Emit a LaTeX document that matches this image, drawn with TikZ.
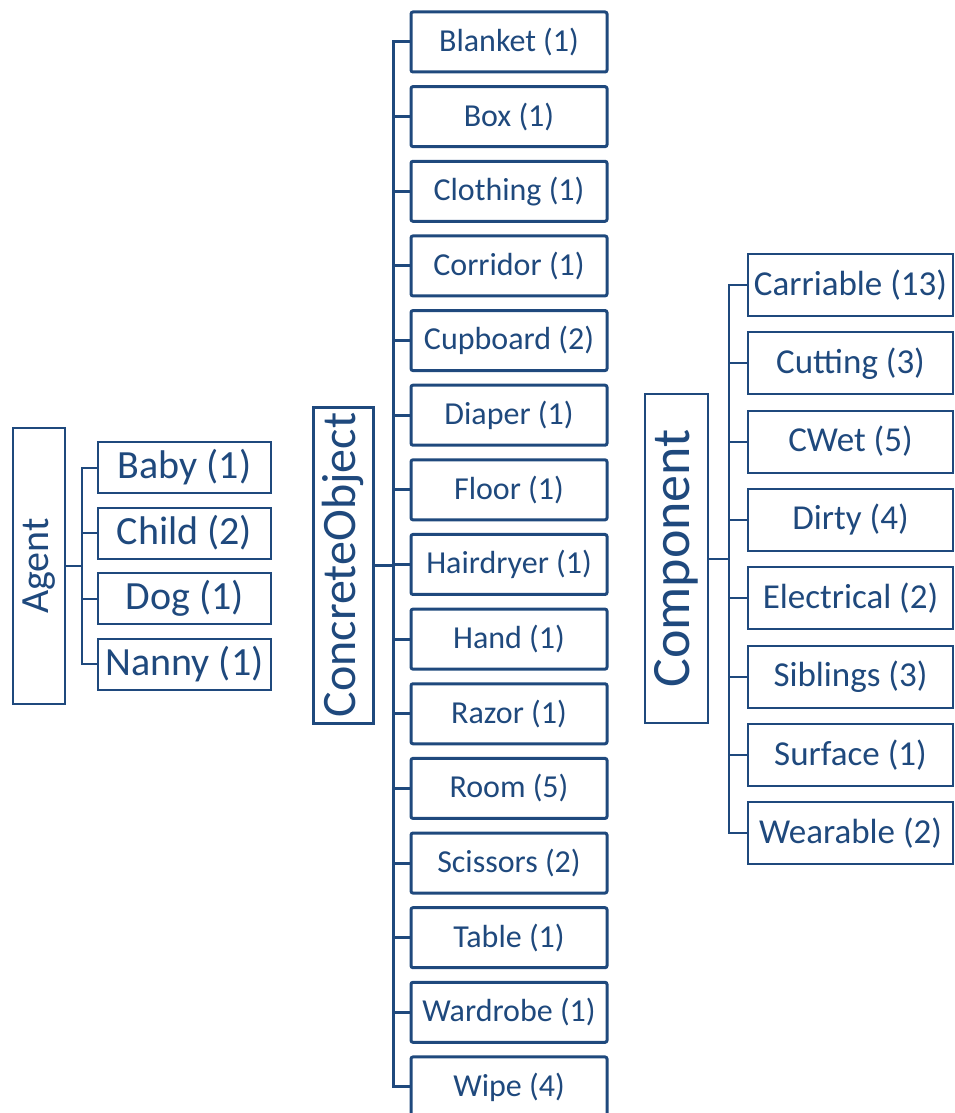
\documentclass[tikz,border=0pt]{standalone}
\usepackage{fontspec}
\setmainfont{Carlito}
\usetikzlibrary{positioning}
\definecolor{navy}{RGB}{31,73,125}

\begin{document}
\begin{tikzpicture}[x=0.5pt,y=-0.5pt,navy,
 root/.style={draw,rotate=90,inner sep=0pt,align=center},
 agleaf/.style={draw,line width=1pt,minimum width=86.5pt,minimum height=25.5pt,inner sep=0pt,font=\fontsize{20}{24}\selectfont},
 coleaf/.style={draw,line width=1.5pt,rounded corners=1pt,minimum width=98pt,minimum height=30pt,inner sep=0pt,font=\fontsize{16}{19}\selectfont},
 cpleaf/.style={draw,line width=1pt,minimum width=102.5pt,minimum height=31pt,inner sep=0pt,font=\fontsize{17.5}{21}\selectfont}]
\useasboundingbox (0,0) rectangle (954,1113);
% agent
\node[root,line width=1pt,minimum width=138pt,minimum height=26pt,font=\fontsize{20}{24}\selectfont] (ag) at (39,566) {Agent};
\coordinate (agbus) at (82,566);
\foreach \t [count=\i from 0] in {Baby (1),Child (2),Dog (1),Nanny (1)}
  \node[agleaf] (ag\i) at (184.5,{467.5+65.5*\i}) {\t};
\draw[line width=1pt] (ag.south) -- (agbus);
\foreach \i in {0,...,3}
  \draw[line width=1pt] (ag\i.west) -| (agbus);
% concrete objects
\node[root,line width=1.5pt,minimum width=158pt,minimum height=30pt,font=\fontsize{24}{28}\selectfont] (co) at (343,565) {ConcreteObject};
\coordinate (cobus) at (393,565);
\foreach \t [count=\i from 0] in {Blanket (1),Box (1),Clothing (1),Corridor (1),Cupboard (2),Diaper (1),Floor (1),Hairdryer (1),Hand (1),Razor (1),Room (5),Scissors (2),Table (1),Wardrobe (1),Wipe (4)}
  \node[coleaf] (co\i) at (509,{42+74.64*\i}) {\t};
\draw[line width=1.5pt] (co.south) -- (cobus);
\foreach \i in {0,...,14}
  \draw[line width=1.5pt] (co\i.west) -| (cobus);
% components
\node[root,line width=1pt,minimum width=164.5pt,minimum height=31.5pt,font=\fontsize{27}{32}\selectfont] (cp) at (676.5,558.5) {Component};
\coordinate (cpbus) at (729,558.5);
\foreach \t [count=\i from 0] in {Carriable (13),Cutting (3),CWet (5),Dirty (4),Electrical (2),Siblings (3),Surface (1),Wearable (2)}
  \node[cpleaf] (cp\i) at (850.5,{285+78.3*\i}) {\t};
\draw[line width=1pt] (cp.south) -- (cpbus);
\foreach \i in {0,...,7}
  \draw[line width=1pt] (cp\i.west) -| (cpbus);
\end{tikzpicture}
\end{document}
